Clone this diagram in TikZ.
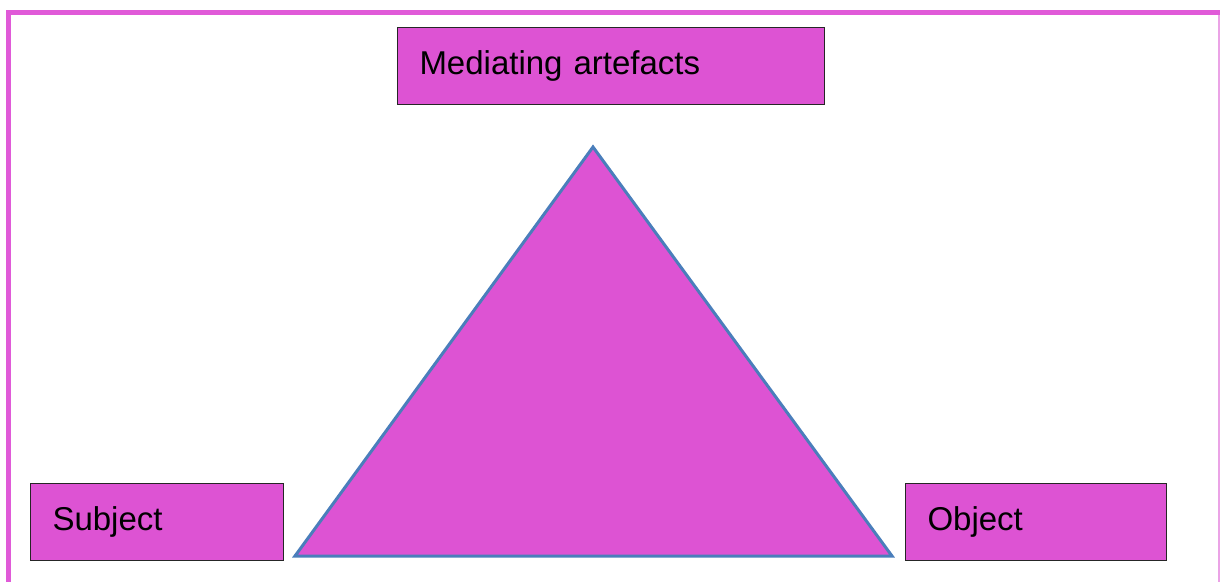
\documentclass[tikz,border=0pt]{standalone}
\usepackage{fontspec}
\setmainfont{Liberation Sans}
\usetikzlibrary{positioning}
\definecolor{cmagenta}{HTML}{DD53D3}
\definecolor{cframe}{HTML}{E05AD8}
\definecolor{cpale}{HTML}{EBA3E6}
\definecolor{cedge}{HTML}{4A7EBB}
\tikzset{
  every picture/.style={x=1pt, y=-1pt},
  box/.style={draw=black!85, fill=cmagenta, line width=1pt, anchor=north west, align=left,
    inner xsep=22pt, inner ysep=0pt, minimum height=77pt, text height=24pt, text depth=8pt,
    font=\fontsize{33}{40}\selectfont},
  tri/.style={fill=cmagenta, draw=cedge, line width=3pt, line join=miter},
}
\begin{document}
\begin{tikzpicture}
  \useasboundingbox (0,0) rectangle (1221,582);
  % frame
  \fill[cframe] (6,10) rectangle (1220,15);
  \fill[cframe] (6,10) rectangle (11,582);
  \draw[cpale, line width=2pt] (1219,15) -- (1219,582);
  % the three corners
  \node[box, text width=383pt] (mediating) at (397,27) {Mediating artefacts};
  \node[box, text width=209pt] (subject) at (30,483) {Subject};
  \node[box, text width=217pt] (object) at (905,483) {Object};
  % triangle
  \coordinate (apex) at (593,147);
  \coordinate (baseL) at (295,556);
  \coordinate (baseR) at (892,556);
  \draw[tri] (apex) -- (baseR) -- (baseL) -- cycle;
\end{tikzpicture}
\end{document}
